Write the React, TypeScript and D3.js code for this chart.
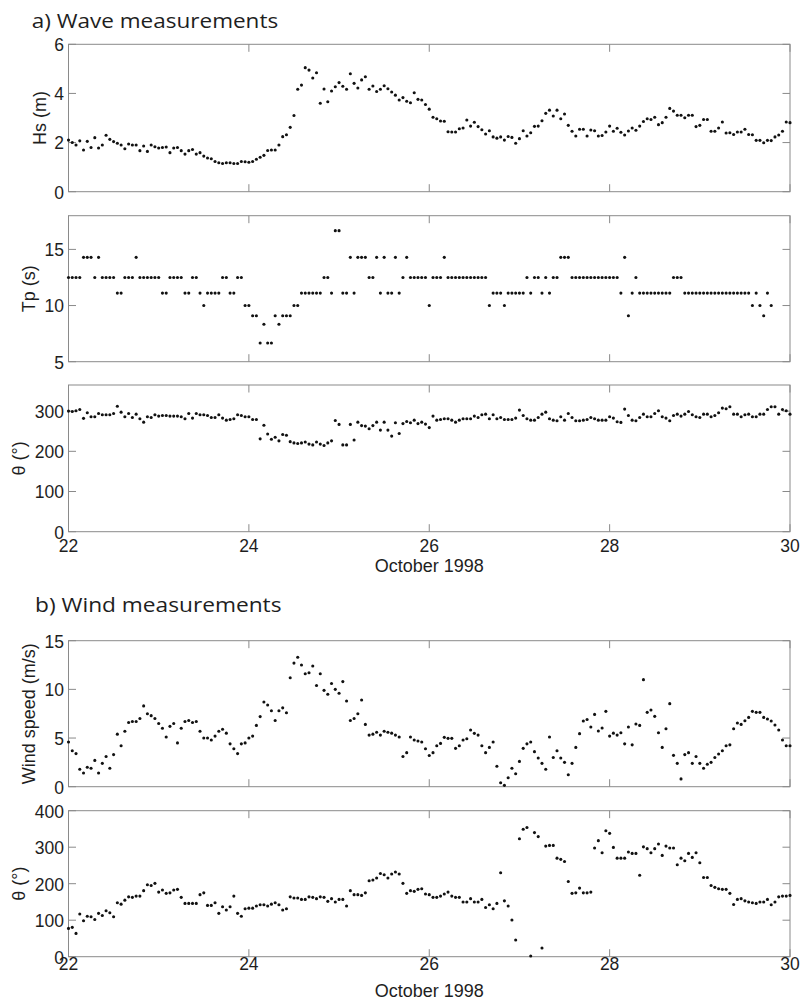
import React from "react";
import * as d3 from "d3";

// Hourly records from 22 October 1998 00:00 onwards (index i => day 22 + i/24)
const dayTicks = [22, 24, 26, 28, 30];
const hsTicks = [0, 2, 4, 6];
const tpTicks = [5, 10, 15];
const dirTicks = [0, 100, 200, 300];
const windTicks = [0, 5, 10, 15];
const windDirTicks = [0, 100, 200, 300, 400];

// Significant wave height (m)
const hsValues = [
  2.10, 2.00, 1.90, 2.07, 1.70, 2.05, 1.80, 2.20, 1.78, 1.90,
  2.30, 2.13, 2.04, 1.97, 1.90, 1.75, 1.94, 1.90, 1.90, 1.67,
  1.86, 1.64, 1.90, 1.83, 1.78, 1.80, 1.82, 1.59, 1.78, 1.80,
  1.67, 1.53, 1.67, 1.72, 1.53, 1.59, 1.45, 1.37, 1.34, 1.23,
  1.18, 1.15, 1.18, 1.18, 1.15, 1.15, 1.23, 1.22, 1.20, 1.23,
  1.32, 1.40, 1.48, 1.68, 1.70, 1.70, 1.90, 2.24, 2.32, 2.62,
  3.10, 4.17, 4.34, 5.05, 4.95, 4.63, 4.84, 3.60, 4.18, 3.66,
  4.10, 4.27, 4.44, 4.29, 4.17, 4.80, 4.41, 4.22, 4.55, 4.68,
  4.17, 4.30, 4.08, 4.17, 4.31, 4.19, 4.06, 3.93, 3.73, 3.83,
  3.68, 3.62, 4.03, 3.76, 3.73, 3.55, 3.36, 3.03, 2.97,
  2.88, 2.87, 2.44, 2.43, 2.43, 2.56, 2.59, 2.92, 2.67, 2.83,
  2.65, 2.52, 2.35, 2.48, 2.23, 2.18, 2.23, 2.10, 2.25, 2.21,
  1.97, 2.16, 2.48, 2.27, 2.40, 2.66, 2.67, 2.89, 3.19, 3.32,
  3.08, 3.32, 2.97, 3.16, 2.70, 2.46, 2.27, 2.54, 2.54, 2.27,
  2.51, 2.48, 2.27, 2.29, 2.43, 2.67, 2.46, 2.58, 2.42, 2.31,
  2.47, 2.59, 2.50, 2.67, 2.86, 2.97, 2.94, 3.03, 2.73, 2.81,
  3.03, 3.39, 3.28, 3.11, 3.11, 3.01, 3.11, 3.11, 2.65, 2.70,
  2.94, 2.94, 2.46, 2.46, 2.59, 2.84, 2.39, 2.40, 2.33, 2.43,
  2.43, 2.54, 2.33, 2.32, 2.09, 2.09, 1.99, 2.09, 2.08, 2.23,
  2.31, 2.46, 2.84, 2.81,
];

// Peak period (s)
const tpValues = [
  12.5, 12.5, 12.5, 12.5, 14.29, 14.29, 14.29, 12.5, 14.29, 12.5,
  12.5, 12.5, 12.5, 11.11, 11.11, 12.5, 12.5, 12.5, 14.29, 12.5,
  12.5, 12.5, 12.5, 12.5, 12.5, 11.11, 11.11, 12.5, 12.5, 12.5,
  12.5, 11.11, 11.11, 12.5, 12.5, 11.11, 10, 11.11, 11.11, 11.11,
  11.11, 12.5, 12.5, 11.11, 11.11, 12.5, 12.5, 10, 10, 9.09,
  9.09, 6.67, 8.33, 6.67, 6.67, 9.09, 8.33, 9.09, 9.09, 9.09,
  10, 10, 11.11, 11.11, 11.11, 11.11, 11.11, 11.11, 12.5, 12.5,
  11.11, 16.67, 16.67, 11.11, 11.11, 14.29, 11.11, 14.29, 14.29, 14.29,
  12.5, 12.5, 14.29, 11.11, 14.29, 11.11, 11.11, 14.29, 11.11, 12.5,
  14.29, 12.5, 12.5, 12.5, 12.5, 12.5, 10, 12.5, 12.5, 12.5,
  14.29, 12.5, 12.5, 12.5, 12.5, 12.5, 12.5, 12.5, 12.5, 12.5,
  12.5, 12.5, 10, 11.11, 11.11, 11.11, 10, 11.11, 11.11, 11.11,
  11.11, 11.11, 12.5, 11.11, 12.5, 12.5, 11.11, 12.5, 11.11, 12.5,
  12.5, 14.29, 14.29, 14.29, 12.5, 12.5, 12.5, 12.5, 12.5, 12.5,
  12.5, 12.5, 12.5, 12.5, 12.5, 12.5, 12.5, 11.11, 14.29, 9.09,
  11.11, 12.5, 11.11, 11.11, 11.11, 11.11, 11.11, 11.11, 11.11, 11.11,
  11.11, 12.5, 12.5, 12.5, 11.11, 11.11, 11.11, 11.11, 11.11, 11.11,
  11.11, 11.11, 11.11, 11.11, 11.11, 11.11, 11.11, 11.11, 11.11, 11.11,
  11.11, 11.11, 10, 11.11, 10, 9.09, 11.11, 10,
];

// Mean wave direction (degrees)
const waveDirValues = [
  300, 299, 301, 304, 282, 296, 286, 286, 294, 291,
  291, 291, 294, 312, 297.5, 286, 294, 284, 292.5, 281,
  272.6, 286, 284, 291, 287.6, 289, 289, 287.6, 287.6, 287.6,
  286, 281, 294, 282.6, 294, 291, 291, 289, 284, 284,
  291, 282.6, 277.6, 279, 281, 291, 289, 286, 286, 279,
  279, 231, 265, 243, 230, 235, 226, 242, 240, 224,
  221, 219.6, 221, 223, 218, 216, 223, 218, 214.6, 221,
  226, 276.8, 267, 216, 216, 267, 228, 272.6, 264, 262.7,
  256, 264, 272.6, 252.8, 272.6, 252.8, 237.8, 271, 244.5, 269,
  274, 271, 277.6, 269, 272.6, 267.7, 259, 287.6, 277.6,
  279, 281, 281, 277.6, 272.6, 277.6, 281, 281, 281, 287.6,
  284, 291, 292.5, 281, 291, 281, 284, 279, 279, 279,
  282.6, 302.5, 289, 281, 277.6, 277.6, 284, 292.5, 297.5, 281,
  277.6, 276, 286, 277.6, 294, 284, 276, 276, 277.6, 279,
  284, 281, 277.6, 277.6, 277.6, 286, 282.6, 273.5, 272, 305,
  289, 277.6, 276, 284, 292.5, 286, 286, 294, 301, 286,
  282.6, 276, 289, 292.5, 287.6, 292.5, 299, 291, 286, 284,
  292.5, 292.5, 286, 289, 296, 307.5, 306, 310.8, 292.5, 292.5,
  286, 291, 292.5, 286, 286, 292.5, 292.5, 304, 310.8, 310.8,
  292.5, 304, 301, 292.5,
];

// Wind speed (m/s)
const windSpeedValues = [
  4.6, 3.7, 3.4, 1.8, 1.4, 2.0, 1.9, 2.7, 1.4, 2.4,
  3.1, 1.9, 3.3, 5.4, 4.2, 5.7, 6.6, 6.7, 6.7, 7.0,
  8.3, 7.5, 7.3, 7.0, 6.5, 6.0, 5.1, 6.2, 6.5, 4.5,
  6.0, 6.7, 6.8, 6.6, 6.7, 5.7, 5.0, 5.0, 4.8, 5.2,
  5.7, 5.9, 5.5, 4.4, 3.9, 3.4, 4.4, 4.5, 5.0, 5.2,
  6.3, 7.2, 8.7, 8.4, 7.8, 6.8, 7.8, 8.1, 7.6, 11.2,
  12.7, 13.3, 12.5, 11.6, 11.7, 12.4, 10.4, 11.6, 9.9, 9.5,
  10.6, 10.0, 9.6, 10.8, 8.8, 6.8, 7.0, 7.5, 8.9, 6.4,
  5.3, 5.4, 5.6, 5.3, 5.7, 5.6, 5.5, 5.3, 5.1, 3.1,
  3.5, 5.1, 4.8, 4.7, 4.6, 3.9, 3.2, 3.5, 4.2,
  4.45, 5.07, 4.97, 4.97, 3.94, 4.2, 4.8, 4.93, 5.82, 5.48,
  5.3, 4.2, 3.5, 4.04, 4.6, 2.1, 0.4, 0.14, 0.92, 1.9,
  1.33, 2.6, 3.94, 4.4, 4.6, 3.6, 2.95, 2.4, 1.8, 5.1,
  3.0, 3.7, 2.95, 2.5, 1.23, 2.4, 4.04, 5.45, 6.75, 6.9,
  6.13, 7.43, 5.72, 6.03, 7.74, 5.2, 5.5, 5.3, 5.55, 4.4,
  6.13, 4.3, 6.44, 6.3, 11.0, 7.64, 7.88, 7.23, 5.55, 4.04,
  5.96, 8.53, 3.22, 2.4, 0.8, 3.3, 3.5, 2.4, 3.1, 2.4,
  1.9, 2.3, 2.5, 3.0, 3.36, 3.7, 4.2, 4.3, 5.96, 6.54,
  6.4, 6.78, 7.12, 7.74, 7.64, 7.64, 7.12, 6.95, 6.75, 6.34,
  5.82, 4.8, 4.2, 4.2,
];

// Wind direction (degrees)
const windDirValues = [
  77.6, 80.4, 63.9, 117, 98.6, 111, 109.6, 102, 118.7, 113,
  126, 120.5, 109.6, 148, 144, 155, 164, 162.6, 166, 166,
  181, 197, 195, 201, 177, 182.6, 173.5, 175, 182.6, 184.5,
  162.6, 146, 146, 146, 146, 170, 175, 140.6, 140.6, 148,
  118.7, 137, 128, 137, 166, 118.7, 111, 131.5, 133, 133,
  139, 142.5, 142.5, 139, 144, 148, 142.5, 128, 131.5, 164,
  160.7, 160.7, 157, 157, 164, 162.6, 159, 164, 162.6, 151.6,
  159, 149.8, 157, 157, 139, 181, 170, 170, 168, 175,
  208, 210, 215.5, 228, 224.7, 215.5, 226.5, 232, 226.5, 201,
  173.5, 181, 179, 184.5, 186, 171.7,
  170, 162.6, 162.6, 166, 171.7, 177, 166, 162.6, 162.6, 149.8,
  149.8, 159, 149.8, 149.8, 157, 135, 142.5, 131.5, 146, 230,
  153, 139, 100.5, 45.7, 323, 349, 354, 2, 340, 329,
  23.7, 303, 305, 305, 270, 266.7, 261, 206, 173.5, 175,
  188, 175, 175, 177, 297.7, 318, 285, 345, 338, 299.5,
  270, 270, 270, 286.8, 283, 283, 223, 301, 296, 285,
  296, 308.7, 277.6, 303, 297.7, 297.7, 252, 270, 263, 283,
  272, 285, 257.5, 217, 217, 195, 190, 186, 184.5, 184.5,
  173.5, 143, 157, 159, 153, 149.8, 148, 146, 149.8, 149.8,
  157, 142.5, 149.8, 164, 166, 166, 168,
];

const WIDTH = 801;
const HEIGHT = 1001;
const LEFT = 68.5;
const RIGHT = 790;
const TICK_LEN = 7.5;
const FRAME = "#8a8a8a";
const INK = "#1e1e1e";
const AXIS_FONT = "'Liberation Sans', Arial, Helvetica, sans-serif";
const TITLE_FONT = "'Open Sans', 'Noto Sans', sans-serif";

type PanelSpec = {
  top: number;
  bottom: number;
  domain: [number, number];
  ticks: number[];
  label: string;
  labelX: number;
  values: number[];
  xLabels?: { tickBaseline: number; titleBaseline: number };
};

const panels: PanelSpec[] = [
  { top: 44.3, bottom: 191.7, domain: [0, 6], ticks: hsTicks, label: "Hs (m)", labelX: 45.5, values: hsValues },
  { top: 215.7, bottom: 361.7, domain: [5, 18], ticks: tpTicks, label: "Tp (s)", labelX: 35, values: tpValues },
  {
    top: 385, bottom: 531.7, domain: [0, 365], ticks: dirTicks, label: "θ (°)", labelX: 24.5, values: waveDirValues,
    xLabels: { tickBaseline: 551.7, titleBaseline: 571.7 },
  },
  { top: 640.7, bottom: 786.7, domain: [0, 15], ticks: windTicks, label: "Wind speed (m/s)", labelX: 35, values: windSpeedValues },
  {
    top: 810.7, bottom: 956.7, domain: [0, 400], ticks: windDirTicks, label: "θ (°)", labelX: 24.5, values: windDirValues,
    xLabels: { tickBaseline: 970, titleBaseline: 996.7 },
  },
];

const x = d3.scaleLinear().domain([dayTicks[0], dayTicks[dayTicks.length - 1]]).range([LEFT, RIGHT]);

function Panel({ spec }: { spec: PanelSpec }) {
  const y = d3.scaleLinear().domain(spec.domain).range([spec.bottom, spec.top]);
  const cy = (spec.top + spec.bottom) / 2;
  return (
    <g>
      <rect x={LEFT} y={spec.top} width={RIGHT - LEFT} height={spec.bottom - spec.top} fill="white" stroke={FRAME} strokeWidth={1} />
      {dayTicks.map((d) => (
        <g key={`xt${d}`} stroke={FRAME} strokeWidth={1}>
          <line x1={x(d)} x2={x(d)} y1={spec.bottom} y2={spec.bottom - TICK_LEN} />
          <line x1={x(d)} x2={x(d)} y1={spec.top} y2={spec.top + TICK_LEN} />
        </g>
      ))}
      {spec.ticks.map((t) => (
        <g key={`yt${t}`}>
          <line x1={LEFT} x2={LEFT + TICK_LEN} y1={y(t)} y2={y(t)} stroke={FRAME} />
          <line x1={RIGHT} x2={RIGHT - TICK_LEN} y1={y(t)} y2={y(t)} stroke={FRAME} />
          <text x={LEFT - 4.5} y={y(t) + 6.8} textAnchor="end" fontSize={17.5} fontFamily={AXIS_FONT} fill={INK}>
            {t}
          </text>
        </g>
      ))}
      <text
        transform={`translate(${spec.labelX},${cy}) rotate(-90)`}
        textAnchor="middle"
        fontSize={18}
        fontFamily={AXIS_FONT}
        fill={INK}
      >
        {spec.label}
      </text>
      {spec.values.map((v, i) => (
        <circle key={i} cx={x(dayTicks[0] + i / 24)} cy={y(v)} r={1.55} fill="#111" />
      ))}
      {spec.xLabels && (
        <g fontFamily={AXIS_FONT} fill={INK}>
          {dayTicks.map((d) => (
            <text key={`xl${d}`} x={x(d)} y={spec.xLabels!.tickBaseline} textAnchor="middle" fontSize={17.5}>
              {d}
            </text>
          ))}
          <text x={x(26)} y={spec.xLabels.titleBaseline} textAnchor="middle" fontSize={18}>
            October 1998
          </text>
        </g>
      )}
    </g>
  );
}

export default function App() {
  return (
    <svg
      width={WIDTH}
      height={HEIGHT}
      viewBox={`0 0 ${WIDTH} ${HEIGHT}`}
      style={{ position: "absolute", left: 0, top: 0, background: "white" }}
    >
      <rect width={WIDTH} height={HEIGHT} fill="white" />
      <text x={31.7} y={28} fontSize={20} fontFamily={TITLE_FONT} fill={INK} textLength={246.5} lengthAdjust="spacingAndGlyphs">
        a) Wave measurements
      </text>
      <text x={35} y={612} fontSize={20} fontFamily={TITLE_FONT} fill={INK} textLength={246.5} lengthAdjust="spacingAndGlyphs">
        b) Wind measurements
      </text>
      {panels.map((p, i) => (
        <Panel key={i} spec={p} />
      ))}
    </svg>
  );
}
